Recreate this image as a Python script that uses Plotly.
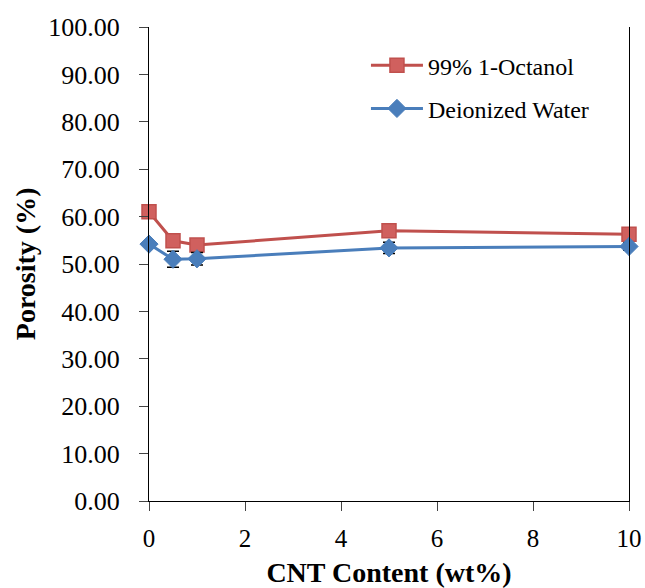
import plotly.graph_objects as go

cnt = [0, 0.5, 1, 5, 10]
octanol = [61.0, 54.9, 54.0, 57.0, 56.3]
octanol_err = [0.5, 0.6, 0.5, 0.5, 0.5]
water = [54.2, 51.0, 51.1, 53.4, 53.7]
water_err = [0.6, 1.7, 1.3, 1.2, 0.8]
yticks = [0, 10, 20, 30, 40, 50, 60, 70, 80, 90, 100]
xticks = [0, 2, 4, 6, 8, 10]

font = "Liberation Serif"

fig = go.Figure()
fig.add_trace(go.Scatter(
    x=cnt, y=octanol, name="99% 1-Octanol", mode="lines+markers", legendgroup="a",
    line=dict(color="#C0504D", width=3),
    marker=dict(symbol="square", size=14, color="#D0605E",
                line=dict(color="#C0504D", width=1.5)),
    error_y=dict(type="data", array=octanol_err, color="black", thickness=1.5, width=6),
    cliponaxis=False,
))
fig.add_trace(go.Scatter(
    x=cnt, y=water, name="Deionized Water", mode="lines+markers", legendgroup="b",
    line=dict(color="#4A7EBB", width=3),
    marker=dict(symbol="diamond", size=14, color="#4A7EBB",
                line=dict(color="#4A7EBB", width=1)),
    error_y=dict(type="data", array=water_err, color="black", thickness=1.5, width=6),
    cliponaxis=False,
))

fig.update_layout(
    width=645, height=588,
    margin=dict(l=149, r=16, t=27, b=87),
    paper_bgcolor="white", plot_bgcolor="white",
    font=dict(family=font, color="black", size=24),
    showlegend=True,
    legend=dict(x=0.452, y=0.966, xanchor="left", yanchor="top",
                bgcolor="rgba(0,0,0,0)", font=dict(size=24, family=font, color="black"),
                traceorder="grouped", tracegroupgap=9, itemwidth=52),
    xaxis=dict(range=[0, 10], tickvals=xticks, ticks="outside", ticklen=9,
               showline=True, linecolor="black", linewidth=1.2, mirror=False,
               showgrid=False, zeroline=False, automargin=False,
               tickfont=dict(size=25, family=font, color="black"),
               ticklabelstandoff=6,
               title=dict(text="<b>CNT Content (wt%)</b>",
                          font=dict(size=28, family=font, color="black"))),
    yaxis=dict(range=[0, 100], tickvals=yticks, tickformat=".2f", ticks="outside", ticklen=9,
               showline=True, linecolor="black", linewidth=1.2, mirror=True,
               showgrid=False, zeroline=False, automargin=False,
               tickfont=dict(size=26, family=font, color="black"),
               ticklabelstandoff=14),
    annotations=[dict(text="<b>Porosity (%)</b>", textangle=-90, showarrow=False,
                      xref="paper", yref="paper", x=-0.258, y=0.5,
                      xanchor="center", yanchor="middle",
                      font=dict(size=28, family=font, color="black"))],
)

fig.write_html("out.html")
